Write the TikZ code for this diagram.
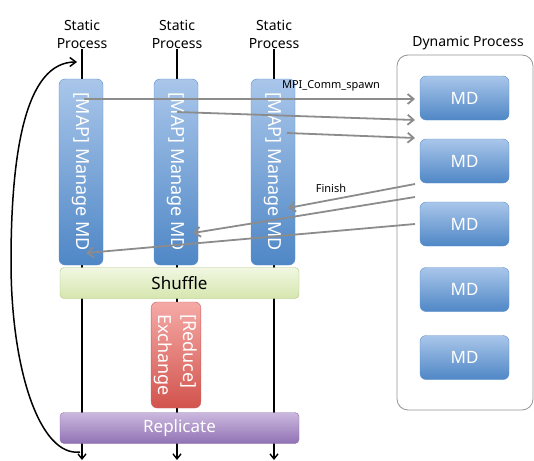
\documentclass[tikz,border=0pt]{standalone}
\usepackage{fontspec}
\setmainfont{Noto Sans}
\usetikzlibrary{arrows.meta}
\definecolor{mdtop}{HTML}{A9C6EA}
\definecolor{mdbot}{HTML}{4F87C6}
\definecolor{mdedge}{HTML}{5D8FCA}
\definecolor{shuftop}{HTML}{F1F7E2}
\definecolor{shufbot}{HTML}{D6E6AE}
\definecolor{shufedge}{HTML}{A9C77A}
\definecolor{redtop}{HTML}{F5AAA6}
\definecolor{redbot}{HTML}{D2534D}
\definecolor{rededge}{HTML}{C96060}
\definecolor{reptop}{HTML}{CBB8DE}
\definecolor{repbot}{HTML}{9072B4}
\definecolor{repedge}{HTML}{8E72B0}
\definecolor{msgcolor}{HTML}{8C8C8C}
\tikzset{
	proclabel/.style = {align=center, font=\fontsize{14}{18}\selectfont, inner sep=1pt},
	procline/.style = {line width=1.4pt, -{Straight Barb[length=5pt,width=8pt]}},
	mapbox/.style = {draw=mdedge, rounded corners=6pt, rotate=-90,
		top color=mdtop, bottom color=mdbot, text=white,
		minimum width=186pt, minimum height=44pt, font=\fontsize{18}{22}\selectfont},
	mdbox/.style = {draw=mdedge, rounded corners=6pt, top color=mdtop, bottom color=mdbot,
		text=white, minimum width=89pt, minimum height=44pt, font=\fontsize{17}{20}\selectfont},
	barbox/.style = {rounded corners=4pt, minimum width=239pt, minimum height=31pt,
		font=\fontsize{17}{20}\selectfont},
	dynframe/.style = {draw=gray!85, line width=0.8pt, rounded corners=11pt,
		minimum width=136pt, minimum height=355pt},
	msg/.style = {draw=msgcolor, line width=1.8pt, -{Straight Barb[length=6pt,width=10pt]}},
	msglabel/.style = {font=\fontsize{11}{13}\selectfont, inner sep=0pt}
}

\begin{document}
\begin{tikzpicture}[x=1pt, y=-1pt]
	\useasboundingbox (0,0) rectangle (534,460);
	% static processes and their time lines
	\foreach [count=\i] \colx in {82,177,274}
	{
		\node[proclabel] (static\i) at (\colx, 34) {Static\\Process};
		\coordinate (end\i) at (\colx, 460);
		\draw[procline] (static\i.south) -- (end\i);
	}
	\foreach [count=\i] \colx in {81,176,273}
		\node[mapbox] (map\i) at (\colx, 172) {[MAP] Manage MD};
	\node[barbox, draw=shufedge, top color=shuftop, bottom color=shufbot] (shuffle) at (179.5, 283) {Shuffle};
	\node[draw=rededge, rounded corners=6pt, rotate=-90, top color=redtop, bottom color=redbot,
		text=white, align=left, minimum width=106pt, minimum height=45pt,
		font=\fontsize{18}{25}\selectfont] (reduce) at (176, 355) {[Reduce]\\Exchange};
	\node[barbox, draw=repedge, top color=reptop, bottom color=repbot, text=white] (replicate) at (179.5, 428) {Replicate};
	% loop back to the start
	\coordinate (loopstart) at (80, 452);
	\coordinate (loopmid) at (11, 262);
	\coordinate (looptip) at (77, 62);
	\draw[line width=1.5pt, -{Straight Barb[length=6pt,width=9pt]}] (loopstart)
		.. controls (40, 457) and (11, 370) .. (loopmid)
		.. controls (11, 150) and (26, 62) .. (looptip);
	% dynamic processes
	\node[dynframe] (dynbox) at (465, 232.5) {};
	\node[proclabel] (dynlabel) at (468, 43) {Dynamic Process};
	\foreach [count=\i] \mdy in {98,161,224,289.5,357.5}
		\node[mdbox] (md\i) at (464.5, \mdy) {MD};
	% spawn and finish messages
	\coordinate (spawn1) at (84, 99);   \coordinate (spawnto1) at (415, 99);
	\coordinate (spawn2) at (177, 112); \coordinate (spawnto2) at (415, 120);
	\coordinate (spawn3) at (287, 133); \coordinate (spawnto3) at (415, 138);
	\coordinate (fin1) at (415, 184);   \coordinate (finto1) at (288, 208);
	\coordinate (fin2) at (415, 197);   \coordinate (finto2) at (193, 233);
	\coordinate (fin3) at (415, 224);   \coordinate (finto3) at (86, 253);
	\foreach \i in {1,2,3}
	{
		\draw[msg] (spawn\i) -- (spawnto\i);
		\draw[msg] (fin\i) -- (finto\i);
	}
	\node[msglabel] (spawnlabel) at (331, 86) {MPI\_Comm\_spawn};
	\node[msglabel] (finishlabel) at (331, 188) {Finish};
\end{tikzpicture}
\end{document}
